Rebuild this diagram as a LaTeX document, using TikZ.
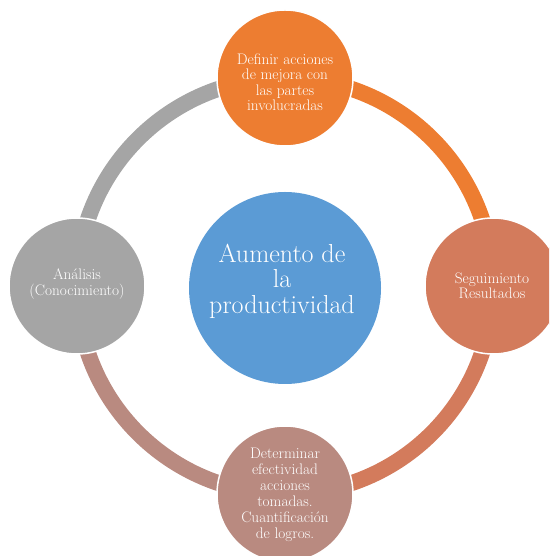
\documentclass[tikz,border=0pt]{standalone}
\definecolor{cBlue}{HTML}{5B9BD5}
\definecolor{cOrange}{HTML}{ED7D31}
\definecolor{cTerra}{HTML}{D37B5C}
\definecolor{cRose}{HTML}{B98A80}
\definecolor{cGray}{HTML}{A5A5A5}
\tikzset{
  cyc/.style={circle, minimum size=136pt, inner sep=0pt, draw=white, line width=1.5pt},
  lbl/.style={align=center, text=white, inner sep=0pt, font=\fontsize{15.3}{15.5}\selectfont},
  hub/.style={circle, minimum size=192pt, inner sep=0pt, fill=cBlue},
  ring/.style={line width=16pt},
}
\begin{document}
\begin{tikzpicture}[x=1pt,y=1pt]
\useasboundingbox (0,0) rectangle (549,556);
\begin{scope}
\clip (0,0) rectangle (549,556);
\coordinate (top) at (285,478);
\coordinate (right) at (493,270);
\coordinate (bottom) at (285,62);
\coordinate (left) at (77,270);
\draw[ring, cOrange] (top) arc[start angle=90, end angle=0, radius=208];
\draw[ring, cTerra] (right) arc[start angle=0, end angle=-90, radius=208];
\draw[ring, cRose] (bottom) arc[start angle=270, end angle=180, radius=208];
\draw[ring, cGray] (left) arc[start angle=180, end angle=90, radius=208];
\node[cyc, fill=cOrange] (ntop) at (top) {};
\node[lbl] (ttop) at (285,474) {Definir acciones\\de mejora con\\las partes\\involucradas};
\node[cyc, fill=cTerra] (nright) at (right) {};
\node[lbl] (tright) at (492,270) {Seguimiento\\Resultados};
\node[cyc, fill=cRose] (nbottom) at (bottom) {};
\node[lbl, font=\fontsize{15.3}{16}\selectfont] (tbottom) at (285,61) {Determinar\\efectividad\\acciones\\tomadas.\\Cuantificación\\de logros.};
\node[cyc, fill=cGray] (nleft) at (left) {};
\node[lbl] (tleft) at (77,272) {Análisis\\(Conocimiento)};
\node[hub] (hub) at (285,268) {};
\node[lbl, font=\fontsize{26}{25.5}\selectfont] (thub) at (282,275) {Aumento de\\la\\productividad};
\end{scope}
\end{tikzpicture}
\end{document}
